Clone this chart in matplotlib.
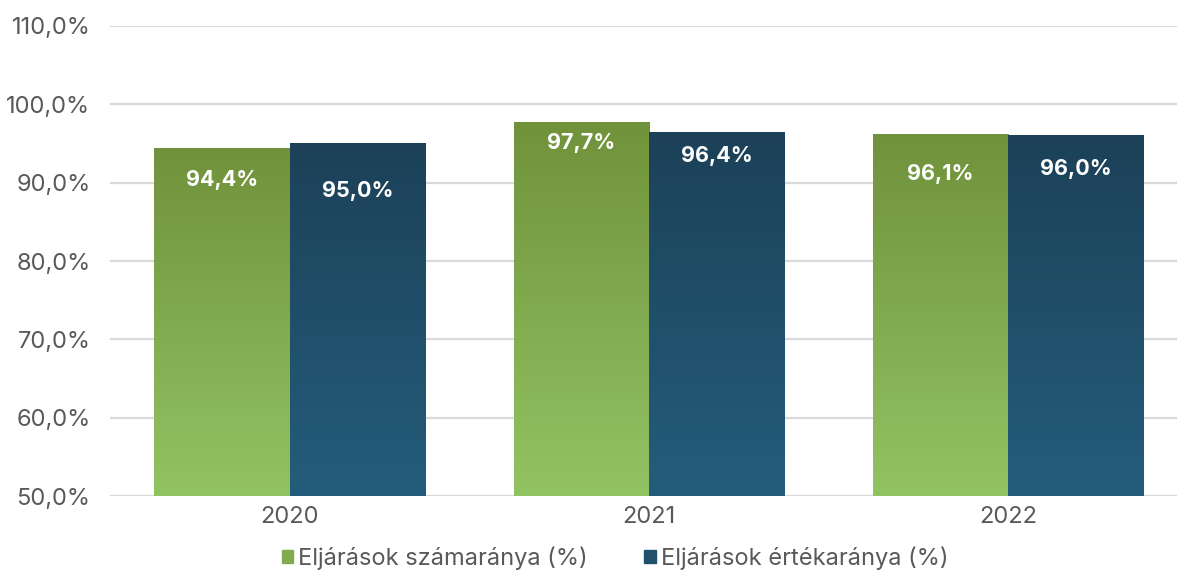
import numpy as np
import matplotlib.pyplot as plt
from matplotlib.colors import LinearSegmentedColormap
from matplotlib.patches import Patch
from matplotlib.ticker import FuncFormatter

plt.rcParams['font.family'] = ['Inter', 'DejaVu Sans']

# adatok
years = ['2020', '2021', '2022']
szamarany = [94.4, 97.7, 96.1]
ertekarany = [95.0, 96.4, 96.0]
series_names = ['Eljárások számaránya (%)', 'Eljárások értékaránya (%)']

# címkék eltolása a oszlop tetejétől (pont)
label_off = [[-23, -15, -28], [-34, -17, -24]]

green_cm = LinearSegmentedColormap.from_list('g', ['#92C363', '#70923B'])
blue_cm = LinearSegmentedColormap.from_list('b', ['#245D7B', '#1C4158'])

fig = plt.figure(figsize=(11.77, 5.72), dpi=100)
ax = fig.add_axes([110 / 1177, 76 / 572, 1078 / 1177, 470 / 572])

x = np.arange(len(years))
w = 0.377
base = 50

grad = np.linspace(0, 1, 256).reshape(-1, 1)
for i, (vals, cm) in enumerate([(szamarany, green_cm), (ertekarany, blue_cm)]):
    xs = x - w / 2 + i * w
    bars = ax.bar(xs, np.array(vals) - base, width=w, bottom=base, color='none', zorder=2)
    for j, b in enumerate(bars):
        x0, x1 = b.get_x(), b.get_x() + b.get_width()
        ax.imshow(grad, cmap=cm, origin='lower', aspect='auto',
                  extent=[x0, x1, base, vals[j]], zorder=2)
        ax.annotate(f'{vals[j]:.1f}%'.replace('.', ','), (xs[j], vals[j]),
                    xytext=(0, label_off[i][j]), textcoords='offset points',
                    ha='center', va='center', color='white', fontsize=15.5,
                    fontweight='bold', zorder=3)

ax.set_xlim(-0.5, 2.5)
ax.set_ylim(50, 110)
ax.set_yticks(np.arange(50, 111, 10))
ax.yaxis.set_major_formatter(FuncFormatter(lambda v, p: f'{v:.1f}%'.replace('.', ',')))
ax.set_xticks(x)
ax.set_xticklabels(years)
ax.tick_params(axis='both', length=0, labelsize=17, colors='#595959')
ax.tick_params(axis='y', pad=14)
ax.tick_params(axis='x', pad=7)
ax.grid(axis='y', color='#D9D9D9', linewidth=1.6, zorder=0)
ax.set_axisbelow(True)
for s in ax.spines.values():
    s.set_visible(False)

handles = [Patch(color='#82AB50'), Patch(color='#21506C')]
fig.legend(handles, series_names, loc='center', bbox_to_anchor=(615 / 1177, 1 - 558 / 572),
           ncol=2, frameon=False, fontsize=17, labelcolor='#595959',
           handlelength=0.5, handleheight=0.5, handletextpad=0.2, columnspacing=2.4)

fig.savefig('out.png', dpi=100)
